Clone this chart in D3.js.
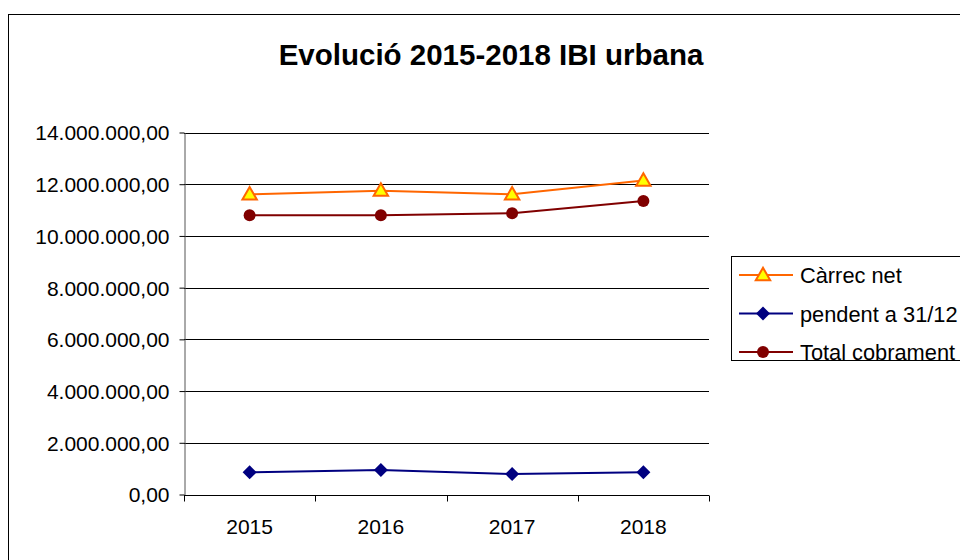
<!DOCTYPE html>
<html><head><meta charset="utf-8">
<script src="https://cdn.jsdelivr.net/npm/d3@7/dist/d3.min.js"></script>
<style>body{margin:0;background:#fff}svg{display:block}</style>
</head><body>
<script>
const years = ["2015","2016","2017","2018"];
const carrecNet = [11610000, 11750000, 11610000, 12140000];
const pendent = [857000, 946000, 790000, 857000];
const totalCobrament = [10800000, 10800000, 10880000, 11350000];
const yTicks = [0, 2000000, 4000000, 6000000, 8000000, 10000000, 12000000, 14000000];
const seriesNames = ["Càrrec net", "pendent a 31/12", "Total cobrament"];

const W = 960, H = 560;
const svg = d3.select("body").append("svg").attr("width", W).attr("height", H);
const font = "Liberation Sans, Arial, sans-serif";
const fs = 21;

svg.append("rect").attr("x", 8.5).attr("y", 14.5).attr("width", 970).attr("height", 570)
  .attr("fill", "#fff").attr("stroke", "#000").attr("stroke-width", 1);

svg.append("text").attr("x", 491).attr("y", 65).attr("text-anchor", "middle")
  .attr("font-family", font).attr("font-weight", "bold").attr("font-size", 29.5)
  .text("Evolució 2015-2018 IBI urbana");

const x = d3.scaleBand().domain(years).range([184, 709]);
const y = d3.scaleLinear().domain([0, 14000000]).range([494.5, 132.5]);

const fmt = v => d3.format(",.2f")(v).replace(/,/g, "#").replace(/\./g, ",").replace(/#/g, ".");

// gridlines
svg.append("g").selectAll("line").data(yTicks.filter(d => d > 0)).join("line")
  .attr("x1", 184).attr("x2", 709).attr("y1", d => Math.round(y(d)) + 0.5).attr("y2", d => Math.round(y(d)) + 0.5)
  .attr("stroke", "#000").attr("stroke-width", 1);

// y axis
const yAxis = d3.axisLeft(y).tickValues(yTicks).tickSize(5).tickSizeOuter(0).tickPadding(10).tickFormat(fmt);
const gy = svg.append("g").attr("transform", "translate(184.5,0)").call(yAxis);
gy.selectAll("text").attr("font-family", font).attr("font-size", fs).attr("fill", "#000").attr("dy", "0.35em");
gy.selectAll("line").attr("stroke", "#000");
gy.select("path.domain").attr("stroke", "#555");

// x axis
const gx = svg.append("g").attr("transform", `translate(0,${Math.round(y(0)) + 0.5})`);
gx.append("line").attr("x1", 184).attr("x2", 709).attr("stroke", "#000");
gx.selectAll("line.t").data(years.concat(["end"])).join("line").attr("class", "t")
  .attr("x1", (d, i) => Math.round(184 + i * x.step()) + 0.5).attr("x2", (d, i) => Math.round(184 + i * x.step()) + 0.5)
  .attr("y1", 0).attr("y2", 6).attr("stroke", "#000");
gx.selectAll("text").data(years).join("text")
  .attr("x", d => x(d) + x.bandwidth() / 2).attr("y", 38.5).attr("text-anchor", "middle")
  .attr("font-family", font).attr("font-size", fs).text(d => d);

const cx = d => x(d) + x.bandwidth() / 2;
const series = [
  {name: seriesNames[0], vals: carrecNet, color: "#FF6600", marker: "tri"},
  {name: seriesNames[1], vals: pendent, color: "#000080", marker: "dia"},
  {name: seriesNames[2], vals: totalCobrament, color: "#800000", marker: "circ"}
];

function drawMarker(g, type, px, py, color) {
  if (type === "tri") {
    g.append("path").attr("d", d3.symbol(d3.symbolTriangle, 90)())
      .attr("transform", `translate(${px},${py + 1})`).attr("fill", "#FFFF00").attr("stroke", color).attr("stroke-width", 2);
  } else if (type === "dia") {
    g.append("path").attr("d", `M0,-7L7,0L0,7L-7,0Z`).attr("transform", `translate(${px},${py})`).attr("fill", color);
  } else {
    g.append("circle").attr("cx", px).attr("cy", py).attr("r", 6).attr("fill", color);
  }
}

const line = d3.line().x(d => cx(d[0])).y(d => y(d[1]));
series.forEach(s => {
  const pts = years.map((yr, i) => [yr, s.vals[i]]);
  svg.append("path").attr("d", line(pts)).attr("fill", "none").attr("stroke", s.color).attr("stroke-width", 2);
  const g = svg.append("g");
  pts.forEach(p => drawMarker(g, s.marker, cx(p[0]), y(p[1]), s.color));
});

// legend
svg.append("rect").attr("x", 731.5).attr("y", 256.5).attr("width", 240).attr("height", 104)
  .attr("fill", "#fff").attr("stroke", "#000");
series.forEach((s, i) => {
  const ly = 275 + i * 38.5;
  const g = svg.append("g");
  g.append("line").attr("x1", 739).attr("x2", 793).attr("y1", ly).attr("y2", ly).attr("stroke", s.color).attr("stroke-width", 2);
  drawMarker(g, s.marker, 763, ly, s.color);
  g.append("text").attr("x", 800).attr("y", ly + 8).attr("font-family", font).attr("font-size", 21.8).text(s.name);
});
</script>
</body></html>
